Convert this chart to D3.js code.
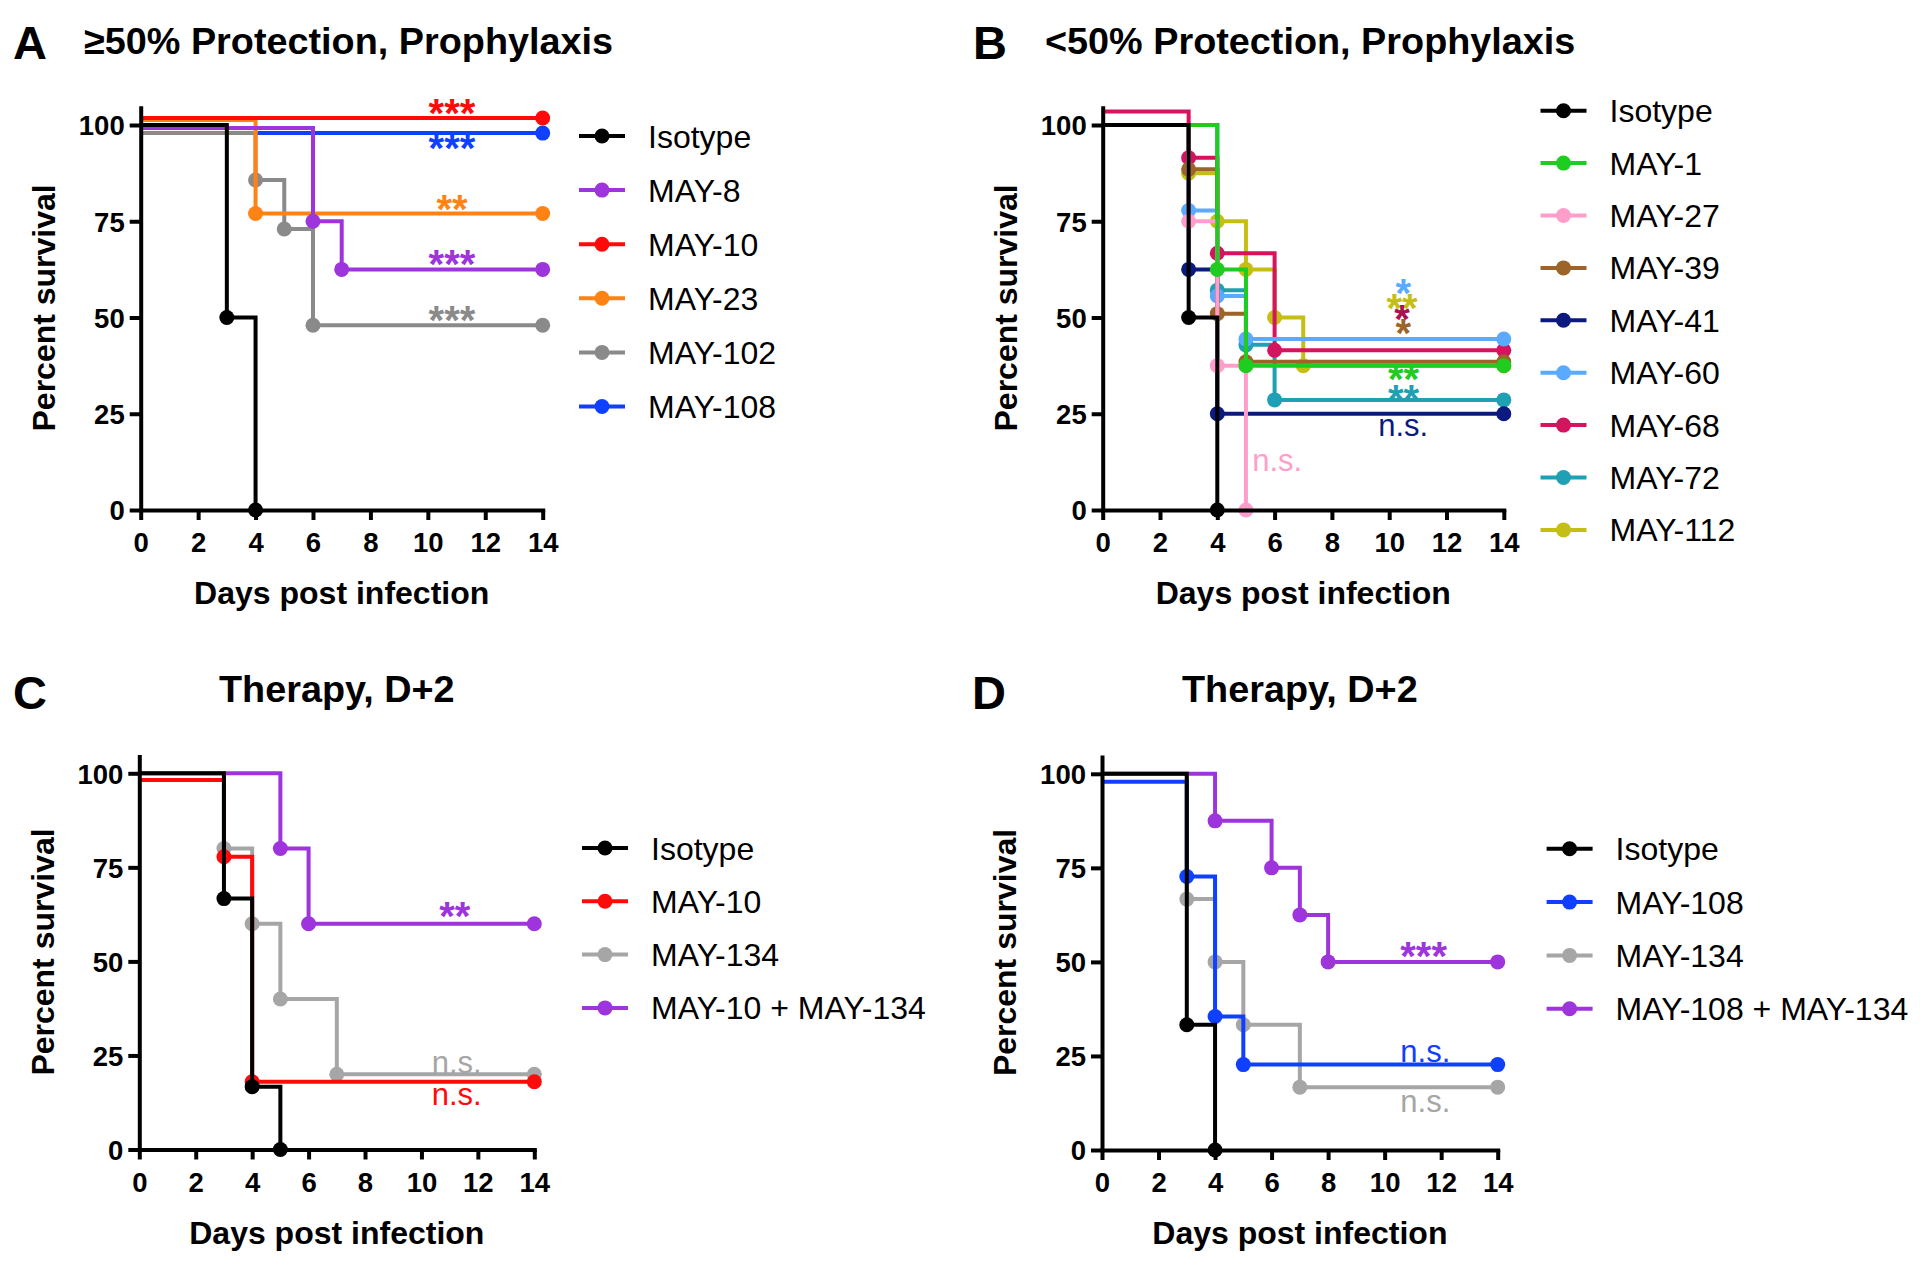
<!DOCTYPE html>
<html><head><meta charset="utf-8">
<script src="https://cdn.jsdelivr.net/npm/d3@7"></script>
<style>
body{margin:0;background:#fff}
svg{display:block}
text{font-family:"Liberation Sans",Arial,Helvetica,sans-serif}
</style>
</head><body>
<svg id="chart" width="1920" height="1267"></svg>
<script>
// ---------------- DATA ----------------
const dayTicks = [0, 2, 4, 6, 8, 10, 12, 14];
const pctTicks = [0, 25, 50, 75, 100];

// Panel A
const namesA = ["Isotype", "MAY-8", "MAY-10", "MAY-23", "MAY-102", "MAY-108"];
const colorsA = ["#000000", "#9d34dc", "#ff0a0a", "#ff8214", "#8a8a8a", "#1040ff"];
const curvesA = [
  [[0, 100], [3, 50], [4, 0]],
  [[0, 99.2], [6, 75], [7, 62.5], [14, 62.5]],
  [[0, 101.8], [14, 101.8]],
  [[0, 101.3], [4, 77], [14, 77]],
  [[0, 97.9], [4, 85.7], [5, 73], [6, 48], [14, 48]],
  [[0, 97.9], [14, 97.9]]
];
const sigA = [
  {text: "***", series: 2, day: 10.84, pct: 104.7},
  {text: "***", series: 5, day: 10.84, pct: 95.7},
  {text: "**", series: 3, day: 10.84, pct: 79.8},
  {text: "***", series: 1, day: 10.84, pct: 65.4},
  {text: "***", series: 4, day: 10.84, pct: 50.9}
];

// Panel B
const namesB = ["Isotype", "MAY-1", "MAY-27", "MAY-39", "MAY-41", "MAY-60", "MAY-68", "MAY-72", "MAY-112"];
const colorsB = ["#000000", "#1fcc1f", "#ff9ecb", "#9c6428", "#0c1a80", "#5aaaff", "#d4145e", "#1fa0b4", "#c5be14"];
const curvesB = [
  [[0, 100], [3, 50], [4, 0]],
  [[0, 100], [4, 62.5], [5, 37.5], [14, 37.5]],
  [[0, 100], [3, 75], [4, 37.5], [5, 0]],
  [[0, 100], [3, 88.5], [4, 51], [5, 38.5], [14, 38.5]],
  [[0, 100], [3, 62.5], [4, 25], [14, 25]],
  [[0, 100], [3, 77.8], [4, 55.6], [5, 44.4], [14, 44.4]],
  [[0, 103.5], [3, 91.5], [4, 66.7], [6, 41.5], [14, 41.5]],
  [[0, 100], [4, 57.1], [5, 42.9], [6, 28.6], [14, 28.6]],
  [[0, 100], [3, 87.5], [4, 75], [5, 62.5], [6, 50], [7, 37.5], [14, 37.5]]
];
const sigB = [
  {text: "*", series: 5, day: 10.49, pct: 57.8},
  {text: "**", series: 8, day: 10.45, pct: 54.1},
  {text: "*", series: 6, day: 10.45, pct: 51.1, shade: "#a8124e"},
  {text: "*", series: 3, day: 10.49, pct: 47.6},
  {text: "**", series: 1, day: 10.5, pct: 35.5},
  {text: "**", series: 7, day: 10.5, pct: 30.3},
  {text: "n.s.", series: 4, day: 10.49, pct: 21.2},
  {text: "n.s.", series: 2, day: 6.09, pct: 12.1}
];

// Panel C
const namesC = ["Isotype", "MAY-10", "MAY-134", "MAY-10 + MAY-134"];
const colorsC = ["#000000", "#ff0a0a", "#a6a6a6", "#9d34dc"];
const curvesC = [
  [[0, 100], [3, 66.7], [4, 16.7], [5, 0]],
  [[0, 98.2], [3, 77.8], [4, 18], [14, 18]],
  [[0, 100], [3, 80], [4, 60], [5, 40], [7, 20], [14, 20]],
  [[0, 100], [5, 80], [6, 60], [14, 60]]
];
const sigC = [
  {text: "**", series: 3, day: 11.18, pct: 63.7},
  {text: "n.s.", series: 2, day: 11.25, pct: 22.5},
  {text: "n.s.", series: 1, day: 11.25, pct: 14.0}
];

// Panel D
const namesD = ["Isotype", "MAY-108", "MAY-134", "MAY-108 + MAY-134"];
const colorsD = ["#000000", "#1040ff", "#a6a6a6", "#9d34dc"];
const curvesD = [
  [[0, 100], [3, 33.3], [4, 0]],
  [[0, 97.9], [3, 72.7], [4, 35.5], [5, 22.7], [14, 22.7]],
  [[0, 100], [3, 66.7], [4, 50], [5, 33.3], [7, 16.7], [14, 16.7]],
  [[0, 100], [4, 87.5], [6, 75], [7, 62.5], [8, 50], [14, 50]]
];
const sigD = [
  {text: "***", series: 3, day: 11.38, pct: 53.2},
  {text: "n.s.", series: 1, day: 11.44, pct: 25.6},
  {text: "n.s.", series: 2, day: 11.44, pct: 12.3}
];

const titles = ["≥50% Protection, Prophylaxis", "<50% Protection, Prophylaxis", "Therapy, D+2", "Therapy, D+2"];
const letters = ["A", "B", "C", "D"];
const xTitle = "Days post infection";
const yTitle = "Percent survival";

// ---------------- LAYOUT ----------------
const panels = [
  {names: namesA, colors: colorsA, curves: curvesA, sig: sigA, x0: 140.7, x1: 542.7, y0: 510, y100: 125,
   letterX: 13, letterY: 58.5, titleAnchor: "start", titleX: 84, titleY: 54, legX: 579, legY: 136, legDY: 54.1},
  {names: namesB, colors: colorsB, curves: curvesB, sig: sigB, x0: 1102.7, x1: 1503.8, y0: 510, y100: 125,
   letterX: 973, letterY: 58.5, titleAnchor: "start", titleX: 1045, titleY: 54, legX: 1540.5, legY: 110.7, legDY: 52.4},
  {names: namesC, colors: colorsC, curves: curvesC, sig: sigC, x0: 139.3, x1: 534.3, y0: 1149.5, y100: 773.3,
   letterX: 13, letterY: 709, titleAnchor: "middle", titleX: null, titleY: 702, legX: 582, legY: 848, legDY: 53.3},
  {names: namesD, colors: colorsD, curves: curvesD, sig: sigD, x0: 1102, x1: 1497.7, y0: 1150, y100: 773.8,
   letterX: 972, letterY: 709, titleAnchor: "middle", titleX: null, titleY: 702, legX: 1546.6, legY: 848.8, legDY: 53.3}
];

const svg = d3.select("#chart");
const LW = 4, R = 7.5;

panels.forEach((p, pi) => {
  const g = svg.append("g");
  const x = d3.scaleLinear().domain([0, 14]).range([p.x0, p.x1]);
  const y = d3.scaleLinear().domain([0, 100]).range([p.y0, p.y100]);
  const yAx = d3.scaleLinear().domain([0, 105]).range([p.y0, y(105)]);

  // panel letter and title
  g.append("text").attr("x", p.letterX).attr("y", p.letterY)
    .attr("font-size", 47).attr("font-weight", "bold").text(letters[pi]);
  g.append("text")
    .attr("x", p.titleX == null ? (p.x0 + p.x1) / 2 : p.titleX)
    .attr("y", p.titleY).attr("text-anchor", p.titleAnchor)
    .attr("font-size", 37.8).attr("font-weight", "bold").text(titles[pi]);

  // curves (reverse order so first series is on top)
  const line = d3.line().x(d => x(d[0])).y(d => y(d[1])).curve(d3.curveStepAfter);
  for (let i = p.curves.length - 1; i >= 0; i--) {
    const c = p.curves[i];
    g.append("path").attr("d", line(c)).attr("fill", "none")
      .attr("stroke", p.colors[i]).attr("stroke-width", LW);
    g.selectAll(null).data(c.slice(1)).enter().append("circle")
      .attr("cx", d => x(d[0])).attr("cy", d => y(d[1])).attr("r", R)
      .attr("fill", p.colors[i]);
  }

  // axes
  const gx = g.append("g").attr("transform", `translate(0,${p.y0})`)
    .call(d3.axisBottom(x).tickValues(dayTicks).tickSize(10).tickSizeOuter(0));
  gx.selectAll("text").attr("y", 42).attr("dy", 0);
  const gy = g.append("g").attr("transform", `translate(${p.x0},0)`)
    .call(d3.axisLeft(yAx).tickValues(pctTicks).tickSize(11).tickSizeOuter(0));
  gy.selectAll("text").attr("x", -16).attr("dy", "0.36em");
  [gx, gy].forEach(a => {
    a.selectAll("path,line").attr("stroke", "#000").attr("stroke-width", LW);
    a.selectAll("text").attr("font-size", 27.5).attr("font-weight", "bold")
      .attr("fill", "#000").attr("font-family", "Liberation Sans, Arial, sans-serif");
  });
  gx.select("path").attr("stroke-linecap", "square");

  // axis titles
  g.append("text").attr("x", (p.x0 + p.x1) / 2).attr("y", p.y0 + 94)
    .attr("text-anchor", "middle").attr("font-size", 32).attr("font-weight", "bold").text(xTitle);
  g.append("text")
    .attr("transform", `translate(${p.x0 - 97},${(yAx(0) + yAx(105)) / 2}) rotate(-90)`)
    .attr("text-anchor", "middle").attr("dy", "0.35em")
    .attr("font-size", 32).attr("font-weight", "bold").text(yTitle);

  // significance labels
  p.sig.forEach(s => {
    const star = s.text.indexOf("*") >= 0;
    g.append("text").attr("x", x(s.day)).attr("y", y(s.pct))
      .attr("text-anchor", "middle")
      .attr("dy", star ? "0.5em" : "0.26em")
      .attr("font-size", star ? 40 : 31)
      .attr("font-weight", star ? "bold" : "normal")
      .attr("fill", s.shade || p.colors[s.series]).text(s.text);
  });

  // legend
  p.names.forEach((n, i) => {
    const ly = p.legY + i * p.legDY;
    g.append("line").attr("x1", p.legX).attr("x2", p.legX + 46)
      .attr("y1", ly).attr("y2", ly).attr("stroke", p.colors[i]).attr("stroke-width", LW);
    g.append("circle").attr("cx", p.legX + 23).attr("cy", ly).attr("r", R).attr("fill", p.colors[i]);
    g.append("text").attr("x", p.legX + 69).attr("y", ly).attr("dy", "0.36em")
      .attr("font-size", 32).text(n);
  });
});
</script>
</body></html>
